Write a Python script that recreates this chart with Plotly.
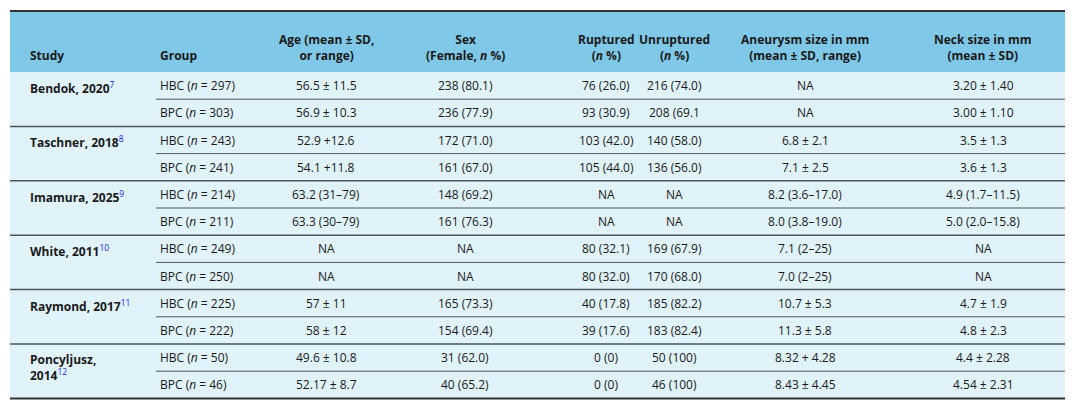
import plotly.graph_objects as go

headers = ["Study", "Group", "Age (mean ± SD,<br>or range)", "Sex<br>(Female, <i>n</i> %)",
           "Ruptured<br>(<i>n</i> %)", "Unruptured<br>(<i>n</i> %)",
           "Aneurysm size in mm<br>(mean ± SD, range)", "Neck size in mm<br>(mean ± SD)"]

studies = ["Bendok, 2020", "Taschner, 2018", "Imamura, 2025", "White, 2011", "Raymond, 2017", "Poncyljusz,<br>2014"]
refs = ["7", "8", "9", "10", "11", "12"]

groups = ["HBC", "BPC"] * 6
group_n = [297, 303, 243, 241, 214, 211, 249, 250, 225, 222, 50, 46]
age = ["56.5 ± 11.5", "56.9 ± 10.3", "52.9 +12.6", "54.1 +11.8", "63.2 (31–79)", "63.3 (30–79)",
       "NA", "NA", "57 ± 11", "58 ± 12", "49.6 ± 10.8", "52.17 ± 8.7"]
sex = ["238 (80.1)", "236 (77.9)", "172 (71.0)", "161 (67.0)", "148 (69.2)", "161 (76.3)",
       "NA", "NA", "165 (73.3)", "154 (69.4)", "31 (62.0)", "40 (65.2)"]
ruptured = ["76 (26.0)", "93 (30.9)", "103 (42.0)", "105 (44.0)", "NA", "NA",
            "80 (32.1)", "80 (32.0)", "40 (17.8)", "39 (17.6)", "0 (0)", "0 (0)"]
unruptured = ["216 (74.0)", "208 (69.1", "140 (58.0)", "136 (56.0)", "NA", "NA",
              "169 (67.9)", "170 (68.0)", "185 (82.2)", "183 (82.4)", "50 (100)", "46 (100)"]
aneurysm = ["NA", "NA", "6.8 ± 2.1", "7.1 ± 2.5", "8.2 (3.6–17.0)", "8.0 (3.8–19.0)",
            "7.1 (2–25)", "7.0 (2–25)", "10.7 ± 5.3", "11.3 ± 5.8", "8.32 + 4.28", "8.43 ± 4.45"]
neck = ["3.20 ± 1.40", "3.00 ± 1.10", "3.5 ± 1.3", "3.6 ± 1.3", "4.9 (1.7–11.5)", "5.0 (2.0–15.8)",
        "NA", "NA", "4.7 ± 1.9", "4.8 ± 2.3", "4.4 ± 2.28", "4.54 ± 2.31"]

FONT = "Open Sans"
TEXT = "#1a1a1a"
W, H = 1073, 407
left, right = 2, 1068
head_top, head_bot = 3, 64
row_h = 27.2

# column anchors: (x, xanchor)
cols = [(20, "left"), (150, "left"), (318, "center"), (457, "center"),
        (598, "center"), (666, "center"), (797, "center"), (975, "center")]

fig = go.Figure()
shapes = []
ann = []

shapes.append(dict(type="rect", x0=left, x1=right, y0=head_top, y1=head_bot,
                   fillcolor="#80c8e8", line_width=0, layer="below"))
body_bot = head_bot + row_h * len(groups)
shapes.append(dict(type="rect", x0=left, x1=right, y0=head_bot, y1=body_bot,
                   fillcolor="#e0f2fa", line_width=0, layer="below"))
shapes.append(dict(type="line", x0=left, x1=right, y0=head_top, y1=head_top,
                   line=dict(color="#333", width=2)))
shapes.append(dict(type="line", x0=left, x1=right, y0=body_bot, y1=body_bot,
                   line=dict(color="#333", width=2)))

for (x, xa), h in zip(cols, headers):
    ann.append(dict(x=x, y=head_bot - 6, text="<b>" + h + "</b>", xanchor=xa, yanchor="bottom",
                    align="left" if xa == "left" else "center", showarrow=False,
                    font=dict(size=12, color=TEXT, family=FONT)))

for i, s in enumerate(studies):
    y0 = head_bot + 2 * i * row_h
    if i > 0:
        shapes.append(dict(type="line", x0=left, x1=right, y0=y0, y1=y0,
                           line=dict(color="#4a5560", width=1.5)))
    shapes.append(dict(type="line", x0=148, x1=right, y0=y0 + row_h, y1=y0 + row_h,
                       line=dict(color="#4a5560", width=1)))
    ann.append(dict(x=20, y=y0 + 5, xanchor="left", yanchor="top", align="left", showarrow=False,
                    text="<b>" + s + "</b><sup><span style='color:#2222ee'>" + refs[i] + "</span></sup>",
                    font=dict(size=12, color=TEXT, family=FONT)))

for r in range(len(groups)):
    yc = head_bot + r * row_h + row_h / 2
    vals = [groups[r] + " (<i>n</i> = %d)" % group_n[r], age[r], sex[r], ruptured[r],
            unruptured[r], aneurysm[r], neck[r]]
    for (x, xa), v in zip(cols[1:], vals):
        ann.append(dict(x=x, y=yc, text=v, xanchor=xa, yanchor="middle", showarrow=False,
                        font=dict(size=12, color=TEXT, family=FONT)))

fig.update_layout(width=W, height=H, margin=dict(l=0, r=0, t=0, b=0),
                  paper_bgcolor="white", plot_bgcolor="white",
                  xaxis=dict(range=[0, W], visible=False, fixedrange=True),
                  yaxis=dict(range=[H, 0], visible=False, fixedrange=True),
                  shapes=shapes, annotations=ann, showlegend=False)
fig.write_html("out.html")
